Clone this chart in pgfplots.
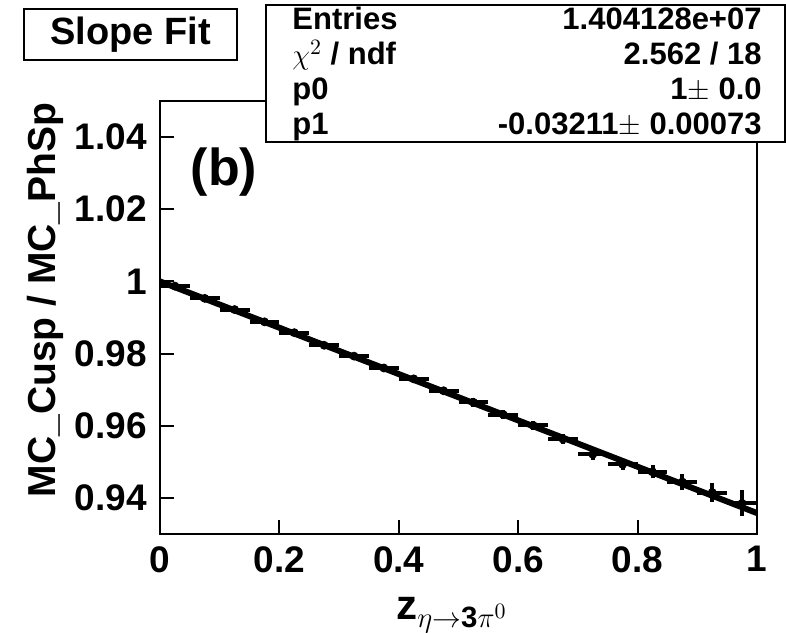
\documentclass[border=0pt]{standalone}
\usepackage{pgfplots}
\pgfplotsset{compat=1.18}
\usepackage{fontspec}
\setmainfont{Liberation Sans}
\pgfplotstableread{
x ex y ey
0.025 0.025 0.9987 0.0008
0.075 0.025 0.9953 0.0008
0.125 0.025 0.9922 0.0008
0.175 0.025 0.9888 0.0008
0.225 0.025 0.9858 0.0009
0.275 0.025 0.9823 0.0009
0.325 0.025 0.9793 0.0010
0.375 0.025 0.9760 0.0010
0.425 0.025 0.9730 0.0010
0.475 0.025 0.9697 0.0011
0.525 0.025 0.9665 0.0012
0.575 0.025 0.9631 0.0012
0.625 0.025 0.9601 0.0013
0.675 0.025 0.9563 0.0014
0.725 0.025 0.9521 0.0015
0.775 0.025 0.9493 0.0016
0.825 0.025 0.9472 0.0018
0.875 0.025 0.9444 0.0021
0.925 0.025 0.9415 0.0027
0.975 0.025 0.9385 0.0036
}\datatable
\begin{document}
\begin{tikzpicture}
\useasboundingbox (0,0) rectangle (393pt,316pt);
\begin{axis}[
  at={(80pt,49pt)}, anchor=south west,
  scale only axis, width=298.5pt, height=216.5pt,
  xmin=0, xmax=1, ymin=0.93, ymax=1.05,
  axis line style={line width=1pt},
  every tick/.style={black, line width=1pt},
  major tick length=7pt,
  tick align=inside,
  xtick pos=bottom, ytick pos=left,
  xtick={0,0.2,0.4,0.6,0.8,1},
  xticklabels={0,0.2,0.4,0.6,0.8,1},
  ytick={0.94,0.96,0.98,1,1.02,1.04},
  yticklabels={0.94,0.96,0.98,1,1.02,1.04},
  minor tick num=0,
  ticklabel style={font=\fontsize{18.5}{18.5}\selectfont\bfseries},
  xticklabel style={inner sep=0pt, anchor=north, yshift=-6pt},
  yticklabel style={inner sep=0pt, anchor=east, xshift=-6.5pt},
  clip=true,
]
\addplot[black, mark=none, only marks,
  error bars/.cd, x dir=both, x explicit, y dir=both, y explicit,
  error mark=none,
  error bar style={black, solid, line width=2pt}]
  table[x=x, y=y, x error=ex, y error=ey] {\datatable};
\addplot[black, line width=3pt, mark=none] coordinates {(0,1.0) (1,0.9358)};
\end{axis}
% labels
\node[rotate=90, font=\fontsize{19.5}{19.5}\selectfont\bfseries] at (22.5pt,166pt) {MC\_Cusp / MC\_PhSp};
\node[anchor=base, inner sep=0pt, font=\fontsize{21}{21}\selectfont\bfseries] at (226pt,6.5pt) {z$_{\eta\rightarrow\mathbf{3}\pi^{0}}$};
\node[font=\fontsize{26}{26}\selectfont\bfseries] at (112pt,230pt) {(b)};
% Slope Fit box
\draw[line width=1pt, fill=white] (12pt,286pt) rectangle (118.5pt,311.5pt);
\node[font=\fontsize{19}{19}\selectfont\bfseries] at (65.25pt,298.75pt) {Slope Fit};
% stats box
\draw[line width=1pt, fill=white] (133pt,245pt) rectangle (392.5pt,313.5pt);
\begin{scope}[every node/.style={font=\fontsize{15.5}{15.5}\selectfont\bfseries, inner sep=0pt}]
\node[anchor=base west] at (146pt,301pt) {Entries};
\node[anchor=base west] at (146pt,283.5pt) {$\chi^{2}$ / ndf};
\node[anchor=base west] at (146pt,266pt) {p0};
\node[anchor=base west] at (146pt,248.5pt) {p1};
\node[anchor=base east] at (381pt,301pt) {1.404128e+07};
\node[anchor=base east] at (381pt,283.5pt) {2.562 / 18};
\node[anchor=base east] at (381pt,266pt) {1$\pm$ 0.0};
\node[anchor=base east] at (381pt,248.5pt) {-0.03211$\pm$ 0.00073};
\end{scope}
\end{tikzpicture}
\end{document}
